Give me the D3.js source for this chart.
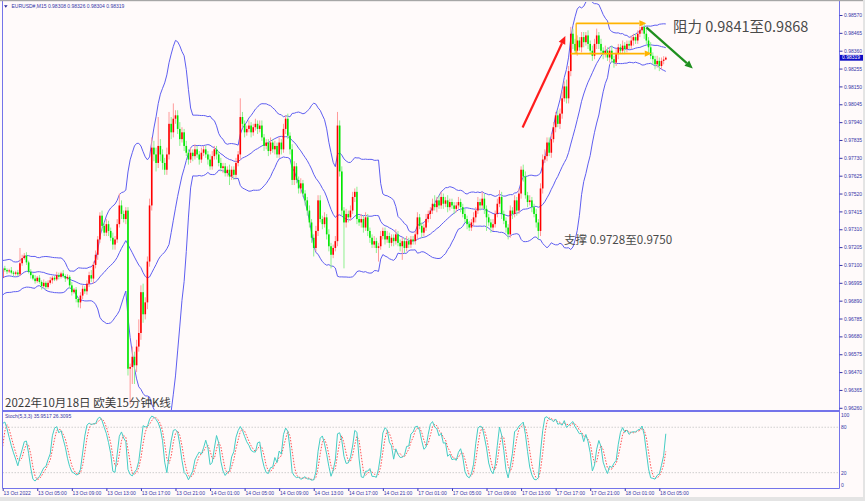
<!DOCTYPE html>
<html><head><meta charset="utf-8">
<script src="https://cdn.jsdelivr.net/npm/d3@7"></script>
<style>body{margin:0;background:#fffafa;overflow:hidden}svg{display:block}</style>
</head><body><svg id="c" width="865" height="501"></svg>
<script>
// ---------------- DATA ----------------
const symbolTitle = "EURUSD#,M15  0.98308 0.98326 0.98304 0.98319";
const stochTitle = "Stoch(5,3,3) 35.9517 26.3095";
const chartTitle = "2022年10月18日 欧美15分钟K线";
const resistText = "阻力 0.9841至0.9868";
const supportText = "支撑 0.9728至0.9750";
const currentPrice = 0.98319;
const priceTicks = [0.98570,0.98465,0.98360,0.98255,0.98150,0.98045,0.97940,0.97835,0.97730,0.97625,0.97520,0.97415,0.97310,0.97205,0.97100,0.96995,0.96890,0.96785,0.96680,0.96575,0.96470,0.96365,0.96260];
const stochTicks = [100,80,20,0];
const stochLevels = [80,20];
const timeLabels = ["13 Oct 2022","13 Oct 05:00","13 Oct 09:00","13 Oct 13:00","13 Oct 17:00","13 Oct 21:00","14 Oct 01:00","14 Oct 05:00","14 Oct 09:00","14 Oct 13:00","14 Oct 17:00","14 Oct 21:00","17 Oct 01:00","17 Oct 05:00","17 Oct 09:00","17 Oct 13:00","17 Oct 17:00","17 Oct 21:00","18 Oct 01:00","18 Oct 05:00"];
const barsPerLabel = 16;
// prices in pips (price*10000)
const firstOpen = 9702.5;
const warmupCloses = [9695,9699,9704,9709,9711,9707,9702,9697,9694,9697,9702,9707,9710,9706,9701,9696,9699,9703,9702.5];
const closes = [
9708.0,9707.0,9706.2,9706.8,9705.5,9704.8,9705.6,9704.5,9711.0,9714.0,
9715.5,9711.5,9706.0,9704.0,9702.0,9700.5,9702.5,9700.0,9697.5,9699.5,
9697.0,9699.5,9701.0,9702.5,9701.5,9704.0,9703.0,9705.0,9703.5,9702.0,
9703.0,9698.0,9694.0,9695.5,9690.0,9688.0,9692.0,9696.0,9694.5,9699.0,
9704.0,9702.0,9710.0,9716.0,9725.0,9739.0,9733.0,9729.0,9734.0,9730.0,
9726.0,9722.0,9725.0,9734.0,9745.0,9740.0,9737.0,9742.0,9649.0,9650.0,
9656.0,9651.0,9662.0,9670.0,9694.0,9681.0,9688.0,9712.0,9745.0,9779.0,
9775.0,9770.0,9780.0,9775.0,9770.0,9766.0,9775.0,9793.0,9788.0,9796.0,
9798.0,9790.0,9784.0,9788.0,9780.0,9776.0,9772.0,9776.0,9774.0,9778.0,
9775.0,9772.0,9776.0,9778.0,9775.0,9772.0,9768.0,9774.0,9778.0,9775.0,
9770.0,9767.0,9768.0,9764.0,9766.0,9762.0,9766.0,9763.0,9770.0,9775.0,
9797.0,9793.0,9788.0,9790.0,9792.0,9788.0,9791.0,9793.0,9790.0,9792.0,
9785.0,9780.0,9782.0,9777.0,9782.0,9778.0,9780.0,9775.0,9782.0,9778.0,
9790.0,9796.0,9786.0,9778.0,9760.0,9768.0,9760.0,9755.0,9758.0,9752.0,
9748.0,9742.0,9735.0,9726.0,9720.0,9730.0,9748.0,9737.0,9734.0,9738.0,
9728.0,9721.0,9716.0,9720.0,9724.0,9792.0,9765.0,9742.0,9735.0,9740.0,
9738.0,9742.0,9750.0,9753.0,9737.0,9735.0,9737.0,9732.0,9738.0,9730.0,
9726.0,9722.0,9724.0,9720.0,9721.0,9727.0,9730.0,9725.0,9727.0,9723.0,
9726.0,9724.0,9728.0,9723.0,9721.0,9724.0,9720.0,9724.0,9722.0,9725.0,
9724.0,9728.0,9738.0,9733.0,9729.0,9732.0,9737.0,9740.0,9742.0,9746.0,
9744.0,9748.0,9745.0,9750.0,9746.0,9748.0,9744.0,9747.0,9745.0,9743.0,
9745.0,9747.0,9744.0,9740.0,9737.0,9734.0,9732.0,9735.0,9738.0,9742.0,
9747.0,9745.0,9749.0,9743.0,9738.0,9735.0,9732.0,9734.0,9740.0,9746.0,
9750.0,9740.0,9736.0,9732.0,9728.0,9742.0,9740.0,9748.0,9742.0,9752.0,
9766.0,9762.0,9751.0,9747.0,9748.0,9744.0,9740.0,9735.0,9730.0,9755.0,
9772.0,9774.0,9782.0,9776.0,9784.0,9791.0,9798.0,9793.0,9799.0,9808.0,
9815.0,9808.0,9824.0,9846.0,9840.0,9836.0,9842.0,9838.0,9844.0,9841.0,
9845.0,9840.0,9836.0,9833.0,9840.0,9845.0,9840.0,9836.0,9834.0,9836.0,
9832.0,9836.0,9831.0,9829.0,9834.0,9838.0,9836.0,9839.0,9837.0,9840.0,
9839.0,9842.0,9844.0,9842.0,9846.0,9848.0,9850.0,9846.0,9842.0,9838.0,
9833.0,9831.0,9828.0,9830.0,9827.0,9830.0,9830.8,9831.9];
const upWick = [
1,1.5,1,1,2,1,1,1.5,9,2, 1.5,2,1,1.5,1,2,1,1.5,1,2, 1,1.5,2,1,1,2,1.5,1,2,1, 1.5,1,2,1,1.5,1,2,2,1.5,2,
2,3,2,2.5,2,2,3,2,3,2, 2,3,2,3,7,3,2,2,2,2, 6,3,4,8,4,5,3,3,4,6, 4,4,17,4,3,3,4,7,4,9,
3,3,4,3,2,3,2,3,2,3, 2,2,3,2,2,2,3,3,2,2, 2,3,2,2,2,3,2,2,3,2, 11,3,2,2,3,2,2,3,2,3,
3,2,2,2,3,2,3,2,3,2, 3,2,3,2,3,3,2,2,3,2, 2,2,3,2,2,3,3,3,2,3, 2,3,2,2,3,8,3,3,2,3,
2,3,3,2,3,2,3,2,3,2, 2,2,3,2,2,3,2,2,3,2, 2,2,3,2,2,2,2,3,2,2, 2,2,3,2,2,2,3,2,2,3,
5,2,3,3,2,2,3,2,2,2, 2,3,2,2,3,2,2,2,3,2, 3,2,4,3,2,2,2,3,2,3, 4,3,2,2,2,3,2,3,2,3,
2,3,3,2,3,2,2,3,2,3, 3,4,3,3,3,3,2,3,3,4, 3,4,3,4,3,3,3,2,3,3, 2,3,2,3,3,4,2,3,2,3,
2,2,3,2,3,2,2,3,2,2, 2,3,2,2,2,2,3,2,3,2, 3,2,2,3,2,2,2,0.7];
const dnWick = [
0.5,1,1.5,1,1,1.5,1,1,1,1.5, 1,1.5,1,2,1,1.5,1,1,2,1, 1.5,1,1,2,1,1,1.5,1,1,2, 1,2,2,1,2,3,3.5,2,1.5,2,
2,2,3,2,3,2,3,2,2,3, 2,3,3,2,2,3,2,3,4,21, 10,11,4,3,4,5,3,4,3,3, 4,5,3,4,4,3,3,3,4,3,
3,3,4,2,3,2,3,2,3,2, 2,3,2,2,2,3,2,2,2,3, 2,2,3,2,2,5,2,3,2,2, 3,2,3,2,2,3,2,2,3,2,
2,3,2,3,2,2,3,2,2,3, 2,3,2,3,3,3,2,3,3,2, 3,3,3,3,5,2,3,2,3,2, 3,3,8,2,2,3,3,3,27,3,
3,2,2,3,3,2,3,3,2,3, 3,2,2,3,8,2,2,3,2,3, 2,3,2,2,3,8,3,2,2,2, 2,2,3,2,3,2,2,2,3,2,
2,3,2,2,3,2,3,2,2,3, 2,2,3,2,2,3,2,2,2,3, 2,3,2,3,8,2,3,2,2,2, 2,3,2,3,3,2,3,2,3,2,
3,3,2,3,2,3,2,3,5,3, 3,2,3,2,3,2,3,2,3,3, 2,3,3,3,3,2,3,2,3,3, 2,3,2,3,2,3,3,2,3,2,
2,3,2,3,2,3,2,2,3,2, 2,2,3,2,2,2,2,3,2,3, 2,3,3,2,3,2,2,0.4];
const bbPeriod = 20, bbDev = 2;
const stK = 5, stD = 3, stSlow = 3;

// ---------------- BUILD ----------------
const N = closes.length;
const bars = closes.map((c,i)=>{
  const o = i===0 ? firstOpen : closes[i-1];
  return {i, o:o/1e4, c:c/1e4, h:(Math.max(o,c)+upWick[i])/1e4, l:(Math.min(o,c)-dnWick[i])/1e4};
});
const W = warmupCloses.length;
const allC = warmupCloses.map(v=>v/1e4).concat(bars.map(b=>b.c));
const allH = warmupCloses.map(v=>v/1e4).concat(bars.map(b=>b.h));
const allL = warmupCloses.map(v=>v/1e4).concat(bars.map(b=>b.l));
const bb = [];
for(let k=0;k<allC.length;k++){
  const s = Math.max(0,k-bbPeriod+1);
  const win = allC.slice(s,k+1);
  const m = d3.mean(win);
  const sd = Math.sqrt(d3.mean(win.map(v=>(v-m)*(v-m))));
  if(k>=W) bb.push({i:k-W, m, u:m+bbDev*sd, d:m-bbDev*sd});
}
const num=[],den=[];
for(let k=0;k<allC.length;k++){
  const s=Math.max(0,k-stK+1);
  const ll=d3.min(allL.slice(s,k+1)), hh=d3.max(allH.slice(s,k+1));
  num.push(allC[k]-ll); den.push(hh-ll);
}
const mainK=[];
for(let k=0;k<allC.length;k++){
  const s=Math.max(0,k-stSlow+1);
  const n=d3.sum(num.slice(s,k+1)), d=d3.sum(den.slice(s,k+1));
  mainK.push(d>0?100*n/d:50);
}
const sig=[];
for(let k=0;k<allC.length;k++){
  const s=Math.max(0,k-stD+1);
  sig.push(d3.mean(mainK.slice(s,k+1)));
}
const stoch = d3.range(N).map(i=>({i, k:mainK[i+W], d:sig[i+W]}));

// ---------------- DRAW ----------------
const svg = d3.select("#c");
const L=2.5, R=839.5, mainTop=2, mainBot=410, stTop=412, stBot=488.5;
const x = d3.scaleLinear().domain([0,387]).range([2.7,838.6]);
const y = d3.scaleLinear().domain([0.96260,0.98570]).range([407.8,15]);
const ys = d3.scaleLinear().domain([0,100]).range([487.8,412.1]);
const axisFont = "'Liberation Sans', Arial, sans-serif";
const axisColor = "#3535a8";
const frameColor = "#7474ea";

svg.append("rect").attr("width",865).attr("height",501).attr("fill","#fffafa");
const defs = svg.append("defs");
defs.append("clipPath").attr("id","cm").append("rect").attr("x",L).attr("y",mainTop).attr("width",R-L).attr("height",mainBot-mainTop);
defs.append("clipPath").attr("id","cs").append("rect").attr("x",L).attr("y",stTop).attr("width",R-L).attr("height",stBot-stTop);

const main = svg.append("g").attr("clip-path","url(#cm)");
// Bollinger bands
const bbColor = "#5e5ef0";
["u","m","d"].forEach(key=>{
  main.append("path").datum(bb)
    .attr("d", d3.line().x(d=>x(d.i)).y(d=>y(d[key])))
    .attr("fill","none").attr("stroke",bbColor).attr("stroke-width",1);
});
// candles
const upBody="#ff0000", upWickC="#ff9a9a", dnBody="#00e600", dnWickC="#8ef08e";
const cg = main.append("g");
cg.selectAll("line").data(bars).join("line")
  .attr("x1",d=>x(d.i)).attr("x2",d=>x(d.i))
  .attr("y1",d=>y(d.h)).attr("y2",d=>y(d.l))
  .attr("stroke",d=>d.c>=d.o?upWickC:dnWickC).attr("stroke-width",1);
cg.selectAll("rect").data(bars).join("rect")
  .attr("x",d=>x(d.i)-0.8).attr("width",1.6)
  .attr("y",d=>y(Math.max(d.o,d.c)))
  .attr("height",d=>Math.max(0.7,Math.abs(y(d.o)-y(d.c))))
  .attr("fill",d=>d.c>=d.o?upBody:dnBody);

// annotations (anchored to bar index / price)
function arrow(g, x1,y1,x2,y2,color,w,head){
  const ang=Math.atan2(y2-y1,x2-x1);
  const bx=x2-head*Math.cos(ang), by=y2-head*Math.sin(ang);
  g.append("line").attr("x1",x1).attr("y1",y1).attr("x2",bx).attr("y2",by).attr("stroke",color).attr("stroke-width",w);
  const hw=head*0.45;
  const p=[[x2,y2],[bx+hw*Math.sin(ang),by-hw*Math.cos(ang)],[bx-hw*Math.sin(ang),by+hw*Math.cos(ang)]];
  g.append("path").attr("d","M"+p.map(q=>q.join(",")).join("L")+"Z").attr("fill",color);
}
const ann = svg.append("g");
// red up arrow
arrow(ann, x(240.7), y(0.97908), x(260.5), y(0.98447), "#ff1c1c", 2.2, 8);
// orange range arrows
const orange="#ffb300";
ann.append("line").attr("x1",x(265.5)).attr("x2",x(265.5)).attr("y1",y(0.98521)).attr("y2",y(0.98343)).attr("stroke",orange).attr("stroke-width",1.3);
arrow(ann, x(265.5), y(0.98521), x(298), y(0.98521), orange, 1.8, 7);
arrow(ann, x(263), y(0.98343), x(300.5), y(0.98343), orange, 1.8, 7);
// green down arrow
arrow(ann, x(298), y(0.98497), x(319.5), y(0.98256), "#1f8f1f", 2.2, 8);

// texts
const cjk = "'Noto Sans CJK SC','Noto Sans',sans-serif";
ann.append("text").attr("x",673).attr("y",y(0.98501)+4.8).attr("font-family",cjk).attr("font-size",14.5).attr("fill","#4a4a4a").text(resistText);
ann.append("text").attr("x",564).attr("y",y(0.97247)+4.2).attr("font-family",cjk).attr("font-size",11.6).attr("fill","#4a4a4a").text(supportText);
ann.append("text").attr("x",5).attr("y",407).attr("font-family",cjk).attr("font-size",11.5).attr("fill","#3a3a3a").text(chartTitle);

// stochastic
const st = svg.append("g").attr("clip-path","url(#cs)");
stochLevels.forEach(v=>{
  st.append("line").attr("x1",L).attr("x2",R).attr("y1",ys(v)).attr("y2",ys(v))
    .attr("stroke","#c4c4c4").attr("stroke-width",0.8).attr("stroke-dasharray","1.5,1.5");
});
st.append("path").datum(stoch).attr("d",d3.line().x(d=>x(d.i)).y(d=>ys(d.d)))
  .attr("fill","none").attr("stroke","#ff5050").attr("stroke-width",1).attr("stroke-dasharray","1.5,1.5");
st.append("path").datum(stoch).attr("d",d3.line().x(d=>x(d.i)).y(d=>ys(d.k)))
  .attr("fill","none").attr("stroke","#45cdc4").attr("stroke-width",1);

// frame
const fr = svg.append("g").attr("stroke",frameColor).attr("fill","none");
fr.append("line").attr("x1",L).attr("x2",L).attr("y1",1).attr("y2",stBot);
fr.append("line").attr("x1",R).attr("x2",R).attr("y1",1).attr("y2",stBot);
fr.append("line").attr("x1",L).attr("x2",R).attr("y1",411).attr("y2",411).attr("stroke-width",2);
fr.append("line").attr("x1",L).attr("x2",R).attr("y1",stBot).attr("y2",stBot);
svg.append("rect").attr("x",0).attr("y",0).attr("width",865).attr("height",1.2).attr("fill","#a6a6a6");
svg.append("rect").attr("x",0).attr("y",497).attr("width",865).attr("height",4).attr("fill","#e4e4e4");
svg.append("rect").attr("x",863).attr("y",0).attr("width",2).attr("height",501).attr("fill","#e4e4e4");

// price axis
const pa = svg.append("g").attr("transform",`translate(${R},0)`)
  .call(d3.axisRight(y).tickValues(priceTicks).tickFormat(d3.format(".5f")).tickSize(3).tickSizeOuter(0).tickPadding(1.5));
pa.select(".domain").remove();
pa.selectAll("line").attr("stroke",axisColor);
pa.selectAll("text").attr("font-family",axisFont).attr("font-size",5).attr("fill",axisColor);
// current price tag
svg.append("rect").attr("x",R+0.5).attr("y",y(currentPrice)-2.8).attr("width",23).attr("height",5.8).attr("fill","#0c0cc4");
svg.append("text").attr("x",R+2.5).attr("y",y(currentPrice)+1.8).attr("font-family",axisFont).attr("font-size",5).attr("fill","#ffffff").text(d3.format(".5f")(currentPrice));

// stoch axis
const sa = svg.append("g").attr("transform",`translate(${R},0)`)
  .call(d3.axisRight(ys).tickValues(stochTicks).tickSize(0).tickPadding(1.5));
sa.select(".domain").remove();
sa.selectAll("text").attr("font-family",axisFont).attr("font-size",5).attr("fill",axisColor)
  .attr("dy",(d)=>d===100?"0.9em":(d===0?"-0.2em":"0.32em"));

// time axis
const tIdx = timeLabels.map((_,k)=>k*barsPerLabel);
const ta = svg.append("g").attr("transform",`translate(0,${stBot})`)
  .call(d3.axisBottom(x).tickValues(tIdx).tickFormat((d,k)=>timeLabels[k]).tickSize(2.5).tickSizeOuter(0).tickPadding(0.3));
ta.select(".domain").remove();
ta.selectAll("line").attr("stroke",axisColor);
ta.selectAll("text").attr("font-family",axisFont).attr("font-size",5).attr("fill",axisColor).attr("text-anchor","start").attr("x",0.3);

// header texts
svg.append("path").attr("d","M4,5.2L7.6,5.2L5.8,7.8Z").attr("fill","#2a2a9a");
svg.append("text").attr("x",11.5).attr("y",8.3).attr("font-family",axisFont).attr("font-size",5).attr("fill","#3535a8").text(symbolTitle);
svg.append("text").attr("x",5).attr("y",418).attr("font-family",axisFont).attr("font-size",5).attr("fill","#3535a8").text(stochTitle);
</script></body></html>
